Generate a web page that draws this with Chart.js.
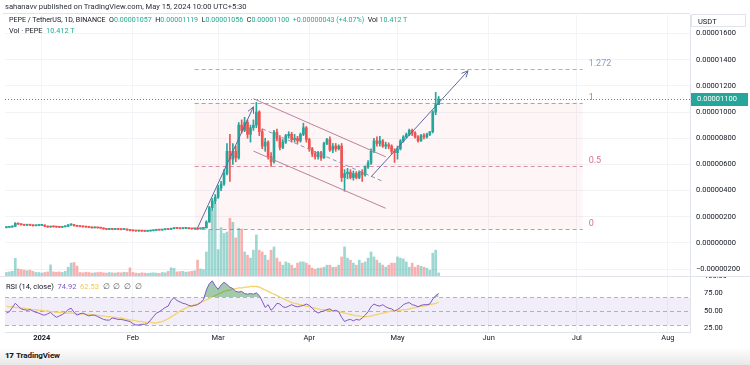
<!DOCTYPE html>
<html>
<head>
<meta charset="utf-8">
<title>PEPE / TetherUS, 1D</title>
<script src="https://cdn.jsdelivr.net/npm/chart.js@4.4.1/dist/chart.umd.min.js"></script>
<style>
  body { margin: 0; background: #fff; font-family: Roboto, "Liberation Sans", sans-serif; color: #131722; }
  #page { position: relative; width: 750px; height: 365px; overflow: hidden; background: #fff; }
  #priceBox { position: absolute; left: 0; top: 0; width: 750px; height: 277px; background: #fff; z-index: 2; }
  #rsiBox { position: absolute; left: 0; top: 270px; width: 750px; height: 78px; z-index: 1; }
  canvas { display: block; }
  .txt { position: absolute; white-space: nowrap; z-index: 3; line-height: 1; }
  .up { color: #22ab94; }
  #pub { left: 5px; top: 3px; font-size: 7.6px; color: #2a2e39; }
  #frame { position: absolute; left: 3px; top: 13px; width: 687px; height: 1px; background: #e0e3eb; z-index: 3; }
  #legend { left: 9px; top: 16px; font-size: 7.1px; }
  #vol { left: 9px; top: 27px; font-size: 7.3px; }
  #usdt { position: absolute; left: 691px; top: 14px; width: 55px; height: 13px; border: 1px solid #e0e3eb; background: #fff; z-index: 3;
          font-size: 7.5px; line-height: 13px; padding-left: 6px; box-sizing: border-box; }
  #rsiLegend { left: 6px; top: 283px; font-size: 7.5px; }
  #foot { position: absolute; left: 0; top: 347px; width: 750px; height: 18px; background: linear-gradient(#ffffff, #e8e8e8); z-index: 0; }
  #tv { left: 16px; top: 352px; font-size: 8px; font-weight: bold; letter-spacing: -0.1px; }
  #logo { left: 5px; top: 352px; font-size: 8px; font-weight: 900; letter-spacing: -0.5px; }
</style>
</head>
<body>
<div id="page">
  <div id="priceBox"><canvas id="priceChart" width="750" height="277"></canvas></div>
  <div id="rsiBox"><canvas id="rsiChart" width="750" height="78"></canvas></div>
  <div class="txt" id="pub">sahanavv published on TradingView.com, May 15, 2024 10:00 UTC+5:30</div>
  <div id="frame"></div>
  <div class="txt" id="legend">PEPE / TetherUS, 1D, BINANCE&nbsp; O<span class="up">0.00001057</span>&nbsp; H<span class="up">0.00001119</span>&nbsp; L<span class="up">0.00001056</span>&nbsp; C<span class="up">0.00001100</span>&nbsp; <span class="up">+0.00000043 (+4.07%)</span>&nbsp; Vol <span class="up">10.412 T</span></div>
  <div class="txt" id="vol">Vol · PEPE&nbsp; <span class="up">10.412 T</span></div>
  <div id="usdt">USDT</div>
  <div class="txt" id="rsiLegend">RSI (14, close)&nbsp; <span style="color:#7e57c2">74.92</span>&nbsp; <span style="color:#f2c94c">62.53</span>&nbsp; <span style="color:#555">∅&nbsp; ∅&nbsp; ∅&nbsp; ∅</span></div>
  <div id="foot"></div>
  <div class="txt" id="logo">17</div>
  <div class="txt" id="tv">TradingView</div>
</div>
<script>
// daily candles, prices in units of 0.00000001 USDT (Dec 20, 2023 .. May 15, 2024)
const openP = [
  118,120,122,128,150,145,140,136,138,136,132,134,
  135,137,128,122,126,124,122,120,124,128,138,140,132,128,126,124,122,120,116,118,116,114,108,104,106,104,106,104,103,105,100,
  96,94,92,93,91,90,92,94,97,100,99,102,106,104,110,114,112,110,112,113,110,108,112,108,112,116,160,270,320,
  350,420,450,530,700,640,700,650,900,860,920,830,880,900,1000,850,740,770,660,620,846,800,730,770,820,830,790,800,780,830,880,
  790,720,680,660,690,650,760,790,710,740,720,740,500,530,540,500,530,500,540,520,580,610,700,780,760,780,740,750,740,700,
  690,720,780,810,830,860,840,810,780,820,810,830,850,1000,1057
];
const highP = [
  124,125,131,156,152,147,142,141,140,138,137,138,
  141,139,130,128,128,126,124,126,131,142,146,142,134,130,128,126,124,122,121,120,118,116,110,109,108,108,108,106,108,107,102,
  98,96,95,95,93,94,96,99,102,102,104,108,108,113,117,116,114,115,116,115,112,114,114,115,118,170,280,340,370,
  440,470,560,760,830,760,740,920,940,960,940,900,940,1074,1010,870,800,780,690,860,870,820,790,830,850,845,830,815,840,915,890,
  800,730,700,700,700,770,800,810,760,760,750,760,560,570,560,550,545,550,560,590,630,720,800,810,815,790,770,765,750,720,
  740,790,820,840,870,870,850,820,830,835,840,850,1010,1150,1119
];
const lowP = [
  115,118,120,126,141,137,133,134,133,129,130,131,
  133,125,119,120,121,119,117,118,122,126,134,129,125,123,121,119,117,113,114,113,111,105,101,102,101,102,101,100,101,97,93,
  91,89,89,88,87,88,90,92,95,97,97,100,102,102,108,109,107,108,109,107,105,106,105,106,110,114,158,250,300,
  340,400,440,520,470,600,620,640,840,850,800,770,860,880,820,720,700,640,585,610,780,710,720,760,800,770,770,760,770,820,770,
  700,660,640,640,630,645,750,700,690,700,710,470,395,490,490,480,490,490,470,510,570,600,690,740,740,730,720,720,680,615,
  640,710,770,800,820,820,800,770,775,795,800,820,840,980,1056
];
const closeP = [
  120,122,128,150,145,140,136,138,136,132,134,135,
  137,128,122,126,124,122,120,124,128,138,140,132,128,126,124,122,120,116,118,116,114,108,104,106,104,106,104,103,105,100,96,
  94,92,93,91,90,92,94,97,100,99,102,106,104,110,114,112,110,112,113,110,108,112,108,112,116,160,270,320,350,
  420,450,530,700,640,700,650,900,860,920,830,880,900,1000,850,740,770,660,620,846,800,730,770,820,830,790,800,780,830,880,790,
  720,680,660,690,650,760,790,710,740,720,740,500,530,540,500,530,500,540,520,580,610,700,780,760,780,740,750,740,700,690,
  720,780,810,830,860,840,810,780,820,810,830,850,1000,1057,1100
];
// volume, trillions of PEPE
const volumeT = [
  12,14,16,60,24,22,20,18,20,16,12,12,
  10,12,14,38,14,13,14,12,16,30,44,46,34,12,11,13,12,10,11,12,13,11,10,12,11,10,12,11,13,12,28,
  12,10,9,11,10,9,10,11,10,9,12,11,16,28,26,14,15,16,13,14,16,18,54,24,22,82,156,224,248,
  90,165,145,150,197,183,130,163,160,82,71,61,88,140,88,82,71,54,88,99,61,48,37,48,44,37,27,44,48,48,44,
  37,27,23,27,27,30,37,37,30,30,37,65,99,61,54,44,37,54,44,48,61,82,65,54,44,37,30,37,44,44,
  65,61,58,48,30,44,30,37,33,30,27,20,78,88,10.412
];
// RSI (14, close) and its moving average
const rsiVals = [
  47,49,55,61,57,53,52,51,52,50,48,47,
  45,44,46,48,44,41,43,45,48,52,54,48,44,46,47,45,43,44,44,42,40,38,37,37,40,39,38,38,37,36,35,
  32,30,30,31,31,32,37,42,47,49,52,55,57,65,69,65,63,61,60,58,57,58,59,62,66,80,89,93,86,
  81,87,91,88,84,82,78,77,78,75,74,75,74,76,72,64,55,59,51,55,61,60,56,55,57,59,57,56,57,58,60,
  58,54,50,47,49,50,52,53,50,51,49,41,35,37,38,36,38,37,40,44,49,56,60,58,57,59,56,54,53,50,
  52,55,59,61,62,59,58,56,58,59,59,60,67,72,74.92
];
const rsiMA = [
  57,56,56,55,55,54,54,53,53,52,52,51,
  51,50,50,49,49,48,48,48,47,47,47,47,46,46,46,45,45,45,44,44,43,43,42,42,41,41,40,40,39,38,37,
  37,36,35,35,34,34,34,33,33,34,35,37,39,42,44,47,50,52,54,56,57,59,60,62,64,66,68,70,72,
  74,76,78,79,80,81,82,83,83,84,84,85,85,85,84,82,80,78,76,74,72,70,68,66,64,62,61,60,59,
  58,57,56,55,54,53,52,52,51,51,50,50,49,48,47,46,45,44,43,43,42,42,42,43,44,45,46,47,48,
  49,50,50,51,51,52,52,53,54,55,56,57,57,58,59,60,61,62.53
];

const firstDay = '2023-12-20';
const dayCount = 233;
const priceTicks = [-200, 0, 200, 400, 600, 800, 1000, 1200, 1400, 1600];
const rsiTicks = [25, 50, 75, 100];
const monthDates = ['2024-01-01', '2024-02-01', '2024-03-01', '2024-04-01', '2024-05-01', '2024-06-01', '2024-07-01', '2024-08-01'];
const monthNames = ['2024', 'Feb', 'Mar', 'Apr', 'May', 'Jun', 'Jul', 'Aug'];

// drawings
const fibLevels = [0, 0.5, 1, 1.272];
const fibNames = ['0', '0.5', '1', '1.272'];
const fibLow = 108, fibHigh = 1070;
const fibFrom = '2024-02-22', fibTo = '2024-07-03';
const lastClose = 1100;
const arrows = [
  [['2024-02-23', 115], ['2024-03-13', 1040]],
  [['2024-04-22', 505], ['2024-05-25', 1315]]
];
const channel = [
  [['2024-03-13', 1102], ['2024-04-27', 658]],
  [['2024-03-13', 702], ['2024-04-27', 265]]
];
const channelMid = [['2024-03-16', 872], ['2024-04-26', 471]];

const labels = [];
const t0 = Date.parse(firstDay + 'T00:00:00Z');
for (let i = 0; i < dayCount; i++) labels.push(new Date(t0 + i * 864e5).toISOString().slice(0, 10));
const monthIdx = monthDates.map(d => labels.indexOf(d));

const UP = '#26a69a', DOWN = '#ef5350';
const isUp = closeP.map((c, i) => c >= openP[i]);
const FONT = 'Roboto, "Liberation Sans", sans-serif';

function fmtPrice(v) {
  return (v < 0 ? '\u2212' : '') + (Math.abs(v) * 1e-8).toFixed(8);
}
function gridX(ctx) {
  return monthIdx.includes(ctx.index) ? '#f3f4f7' : 'rgba(0,0,0,0)';
}
function noPad(ax) {
  ax.paddingTop = 0; ax.paddingBottom = 0; ax.paddingLeft = 0; ax.paddingRight = 0;
}

function line(ctx, x0, y0, x1, y1) {
  ctx.beginPath(); ctx.moveTo(x0, y0); ctx.lineTo(x1, y1); ctx.stroke();
}

const drawings = {
  id: 'drawings',
  beforeDatasetsDraw(chart) {
    const { ctx, scales: { x, y } } = chart;
    const x0 = x.getPixelForValue(labels.indexOf(fibFrom));
    const x1 = x.getPixelForValue(labels.indexOf(fibTo));
    const lv = k => y.getPixelForValue(fibLow + (fibHigh - fibLow) * k);
    ctx.save();
    ctx.fillStyle = 'rgba(242,54,69,0.05)';
    ctx.fillRect(x0, lv(1), x1 - x0, lv(0) - lv(1));
    ctx.lineWidth = 1;
    ctx.setLineDash([4, 3]);
    fibLevels.forEach((k, n) => {
      ctx.strokeStyle = k > 1 ? '#9fb1d6' : '#d58ea2';
      const yy = Math.round(lv(k)) + 0.5;
      line(ctx, x0, yy, x1, yy);
      ctx.fillStyle = k > 1 ? '#7f9fcc' : '#d4728f';
      ctx.font = '9px ' + FONT;
      ctx.textBaseline = 'middle';
      ctx.fillText(fibNames[n], x1 + 6, yy - 6);
    });
    ctx.restore();
  },
  afterDatasetsDraw(chart) {
    const { ctx, chartArea: a, scales: { x, y } } = chart;
    const P = p => [x.getPixelForValue(labels.indexOf(p[0])), y.getPixelForValue(p[1])];
    ctx.save();
    ctx.lineWidth = 1;
    // channel
    ctx.strokeStyle = '#b98299';
    channel.forEach(seg => { const [p, q] = seg.map(P); line(ctx, p[0], p[1], q[0], q[1]); });
    ctx.setLineDash([4, 3]);
    ctx.strokeStyle = '#8593b8';
    { const [p, q] = channelMid.map(P); line(ctx, p[0], p[1], q[0], q[1]); }
    ctx.setLineDash([]);
    // arrows
    ctx.strokeStyle = '#5d6a9a';
    arrows.forEach(seg => {
      const [p, q] = seg.map(P);
      line(ctx, p[0], p[1], q[0], q[1]);
      const ang = Math.atan2(q[1] - p[1], q[0] - p[0]);
      [0.45, -0.45].forEach(d => line(ctx, q[0], q[1], q[0] - 7 * Math.cos(ang + d), q[1] - 7 * Math.sin(ang + d)));
    });
    // last price line
    const yl = Math.round(y.getPixelForValue(lastClose)) + 0.5;
    ctx.strokeStyle = '#26a69a';
    ctx.setLineDash([1, 2]);
    line(ctx, a.left, yl, a.right, yl);
    ctx.restore();
  },
  afterDraw(chart) {
    const { ctx, chartArea: a, scales: { y } } = chart;
    const yl = Math.round(y.getPixelForValue(lastClose));
    ctx.save();
    ctx.fillStyle = '#26a69a';
    ctx.fillRect(a.right + 1, yl - 6, 57, 13);
    ctx.fillStyle = '#fff';
    ctx.font = '7.5px ' + FONT;
    ctx.textBaseline = 'middle';
    ctx.fillText(fmtPrice(lastClose), a.right + 7, yl + 0.5);
    ctx.fillStyle = '#e0e3eb';
    ctx.fillRect(0, a.bottom, 750, 1);
    ctx.restore();
  }
};

new Chart(document.getElementById('priceChart'), {
  type: 'bar',
  data: {
    labels,
    datasets: [
      { data: openP.map((o, i) => [o, closeP[i]]), backgroundColor: isUp.map(u => u ? UP : DOWN),
        barThickness: 2, minBarLength: 1, grouped: false, order: 1, yAxisID: 'y' },
      { data: lowP.map((l, i) => [l, highP[i]]), backgroundColor: isUp.map(u => u ? UP : DOWN),
        barThickness: 1, grouped: false, order: 2, yAxisID: 'y' },
      { data: volumeT, backgroundColor: isUp.map(u => u ? 'rgba(38,166,154,0.45)' : 'rgba(239,83,80,0.45)'),
        barThickness: 2, grouped: false, order: 3, yAxisID: 'yv' }
    ]
  },
  options: {
    responsive: false,
    animation: false,
    events: [],
    layout: { padding: { left: 5, top: 15, right: 0, bottom: 1 } },
    plugins: { legend: { display: false }, tooltip: { enabled: false } },
    scales: {
      x: {
        offset: true,
        ticks: { display: false },
        grid: { offset: false, drawTicks: false, color: gridX },
        border: { display: false },
        afterFit: ax => { ax.height = 0; noPad(ax); }
      },
      y: {
        position: 'right',
        min: -252, max: 1741,
        afterBuildTicks: ax => { ax.ticks = priceTicks.map(v => ({ value: v })); },
        afterFit: ax => { ax.width = 60; noPad(ax); },
        ticks: { callback: fmtPrice, color: '#131722', padding: 6, font: { family: FONT, size: 7.5 } },
        grid: { drawTicks: false, color: '#f2f3f7' },
        border: { color: '#e0e3eb' }
      },
      yv: { display: false, min: 0, max: 890 }
    }
  },
  plugins: [drawings]
});

const rsiBand = {
  id: 'rsiBand',
  beforeDatasetsDraw(chart) {
    const { ctx, chartArea: a, scales: { y } } = chart;
    const y70 = Math.round(y.getPixelForValue(70)) + 0.5, y30 = Math.round(y.getPixelForValue(30)) + 0.5;
    const y50 = Math.round(y.getPixelForValue(50)) + 0.5;
    ctx.save();
    ctx.fillStyle = 'rgba(126,87,194,0.1)';
    ctx.fillRect(a.left, y70, a.right - a.left, y30 - y70);
    ctx.lineWidth = 1;
    ctx.setLineDash([4, 3]);
    ctx.strokeStyle = 'rgba(120,123,134,0.55)';
    [y70, y50, y30].forEach(v => line(ctx, a.left, v, a.right, v));
    ctx.restore();
  }
};

new Chart(document.getElementById('rsiChart'), {
  type: 'line',
  data: {
    labels,
    datasets: [
      { data: rsiVals, borderColor: '#7e57c2', borderWidth: 1, pointRadius: 0, tension: 0,
        fill: { target: { value: 70 }, above: 'rgba(46,140,70,0.45)', below: 'rgba(0,0,0,0)' }, order: 1 },
      { data: rsiMA, borderColor: '#f3d36a', borderWidth: 1.3, pointRadius: 0, tension: 0.3, fill: false, order: 2 }
    ]
  },
  options: {
    responsive: false,
    animation: false,
    events: [],
    layout: { padding: { left: 5, top: 6, right: 0, bottom: 0 } },
    plugins: { legend: { display: false }, tooltip: { enabled: false } },
    scales: {
      x: {
        offset: true,
        ticks: {
          autoSkip: false, maxRotation: 0, padding: 2, color: '#131722',
          font: ctx => ({ family: FONT, size: 7.5, weight: ctx.index === monthIdx[0] ? 'bold' : 'normal' }),
          callback: (v, i) => { const k = monthIdx.indexOf(i); return k >= 0 ? monthNames[k] : ''; }
        },
        grid: { offset: false, drawTicks: false, color: gridX },
        border: { color: '#e0e3eb' },
        afterFit: ax => { ax.height = 16; noPad(ax); }
      },
      y: {
        position: 'right',
        min: 20, max: 100,
        afterBuildTicks: ax => { ax.ticks = rsiTicks.map(v => ({ value: v })); },
        afterFit: ax => { ax.width = 60; noPad(ax); },
        ticks: { callback: v => v.toFixed(2), color: '#131722', padding: 6, font: { family: FONT, size: 7.5 } },
        grid: { display: false },
        border: { color: '#e0e3eb' }
      }
    }
  },
  plugins: [rsiBand]
});
</script>
</body>
</html>
